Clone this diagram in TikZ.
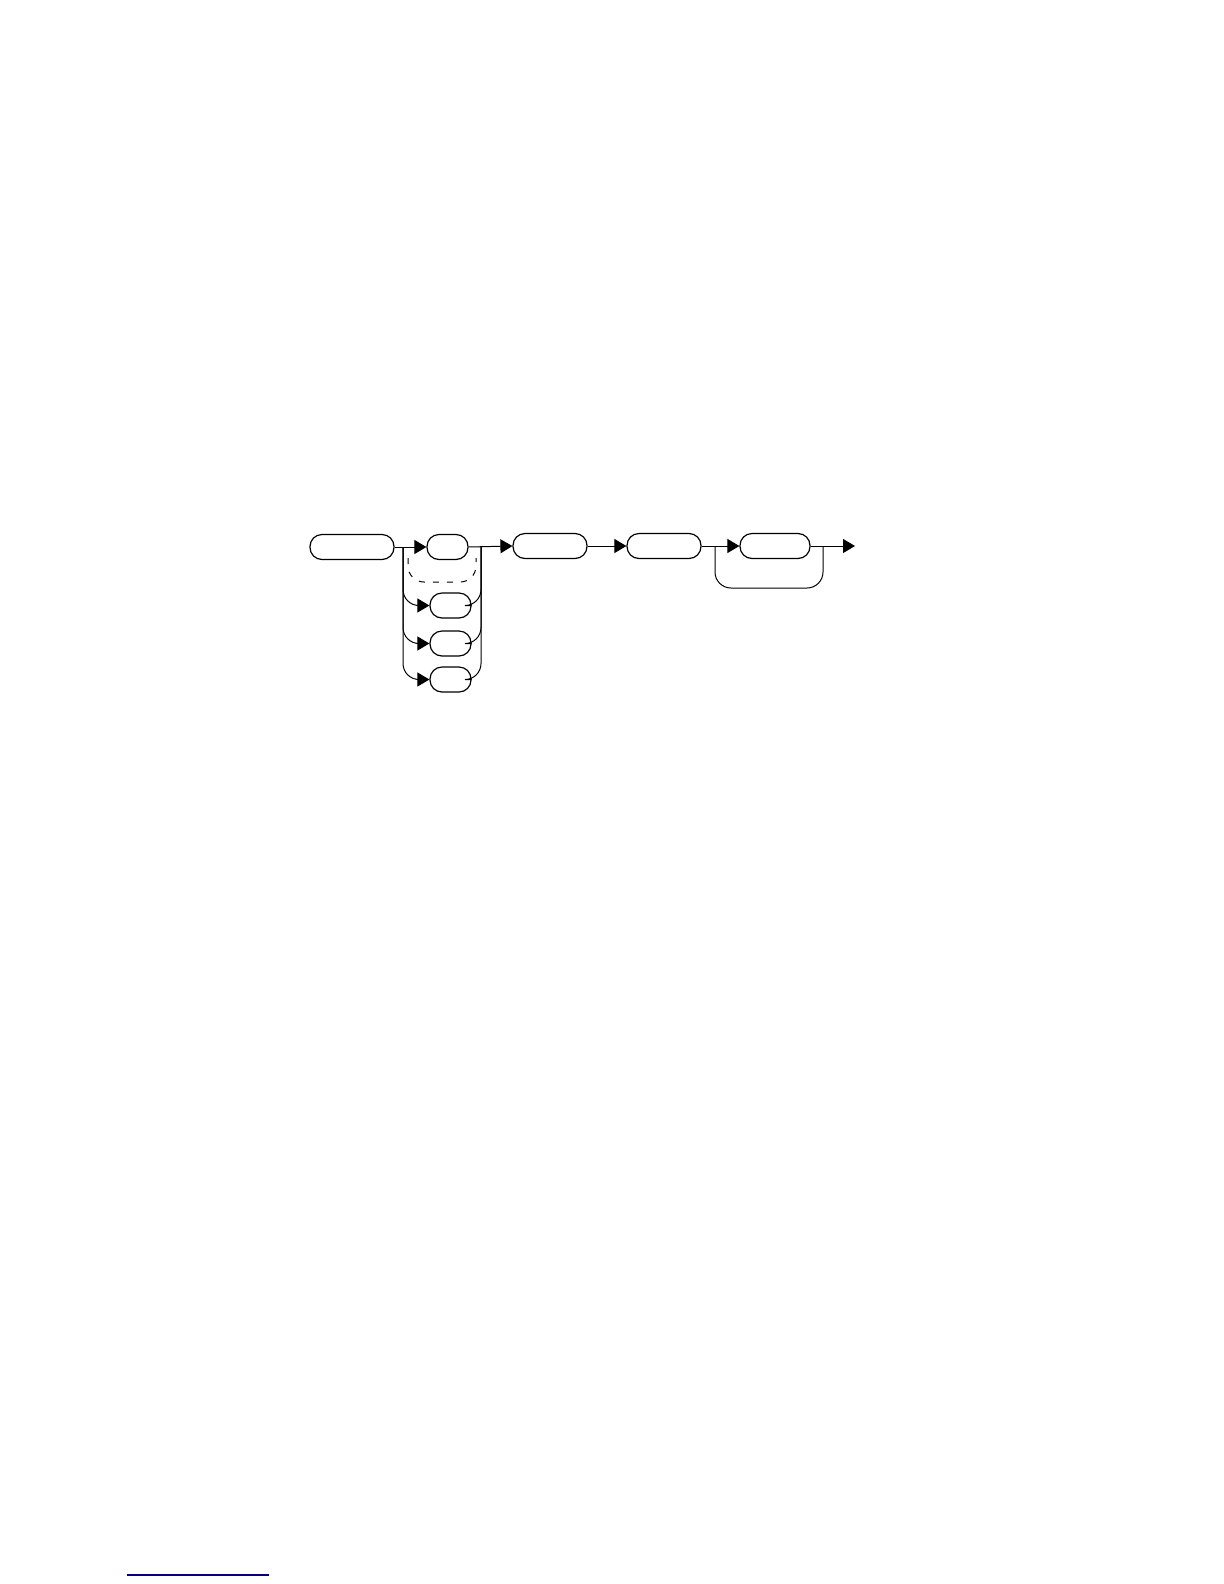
\documentclass[tikz,border=0pt]{standalone}
\usetikzlibrary{arrows.meta}
\definecolor{linkblue}{RGB}{0,0,128}
\begin{document}
\begin{tikzpicture}[x=0.5bp,y=-0.5bp,
  term/.style={draw,line width=0.6pt,rounded corners=6bp,inner sep=0pt,minimum height=12.5bp},
  conn/.style={line width=0.5pt},
  arr/.style={conn,-{Triangle[length=6bp,width=7bp]}},
  opt/.style={conn,dashed,dash pattern=on 3bp off 4bp}]
\useasboundingbox (0,0) rectangle (1224,1584);
% nodes
\node[term,minimum width=42bp] (a) at (352,547) {};
\node[term,minimum width=20.5bp] (b) at (447.5,547) {};
\node[term,minimum width=37bp] (c) at (550,546) {};
\node[term,minimum width=37bp] (d) at (664,546) {};
\node[term,minimum width=35bp] (e) at (775,546) {};
\node[term,minimum width=20.5bp] (f) at (450.5,605.5) {};
\node[term,minimum width=20.5bp] (g) at (450.5,643.5) {};
\node[term,minimum width=20.5bp] (h) at (450.5,679.5) {};
% junctions
\coordinate (jL) at (403,547);
\coordinate (jR) at (481,547);
\coordinate (jD) at (715,546);
\coordinate (jE) at (823,546);
\coordinate (endp) at (855,546);
\coordinate (dA) at (408,558);
\coordinate (dM) at (442,582);
\coordinate (dB) at (476,558);
\coordinate (lM) at (769,588);
% connectors
\draw[arr] (a.east) -- (b.west);
\draw[arr,rounded corners=8bp] (jL) |- (f.west);
\draw[arr,rounded corners=8bp] (jL) |- (g.west);
\draw[arr,rounded corners=8bp] (jL) |- (h.west);
\draw[conn,rounded corners=8bp] (f.east) -| (jR);
\draw[conn,rounded corners=8bp] (g.east) -| (jR);
\draw[conn,rounded corners=8bp] (h.east) -| (jR);
\draw[opt,rounded corners=8bp] (dA) |- (dM) -| (dB);
\draw[arr] (b.east) -- (c.west);
\draw[arr] (c.east) -- (d.west);
\draw[arr] (d.east) -- (e.west);
\draw[arr] (e.east) -- (endp);
\draw[conn,rounded corners=8bp] (jD) |- (lM) -| (jE);
% bottom rule
\draw[linkblue,line width=1bp] (127,1575) -- (269,1575);
\end{tikzpicture}
\end{document}
